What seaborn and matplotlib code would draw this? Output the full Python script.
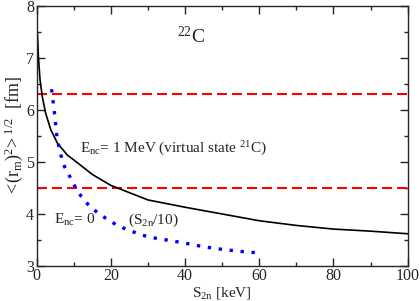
import matplotlib
matplotlib.use('Agg')
import pandas as pd
import seaborn as sns
import matplotlib.pyplot as plt
from matplotlib.ticker import MultipleLocator

# ------------------------------------------------------------
# data
# ------------------------------------------------------------
s2n_black = [0.2, 0.45, 0.9, 1.5, 2.4, 3.8, 5.6, 8.3, 10, 15, 20, 30, 40, 50, 60, 70, 80, 90, 100]
r_black = [7.47, 7.03, 6.58, 6.26, 5.94, 5.62, 5.36, 5.13, 5.04, 4.76, 4.55, 4.27, 4.13, 4.0,
           3.87, 3.78, 3.71, 3.67, 3.62]

s2n_blue = [4.0, 4.5, 5.0, 5.5, 6.5, 7.5, 9, 10.5, 12, 14, 16.5, 19, 21.5, 24, 27, 30,
            35, 40, 45, 50, 55, 60]
r_blue = [6.4, 6.12, 5.8, 5.45, 5.14, 4.91, 4.71, 4.50, 4.34, 4.17, 4.02, 3.90, 3.79, 3.71,
          3.63, 3.56, 3.50, 3.44, 3.37, 3.32, 3.28, 3.25]

r_limits = [6.3, 4.5]

black = pd.DataFrame({'S2n': s2n_black, 'r': r_black})
blue = pd.DataFrame({'S2n': s2n_blue, 'r': r_blue})

# ------------------------------------------------------------
# style
# ------------------------------------------------------------
sns.set_style('ticks')
plt.rcParams['font.family'] = ['Liberation Serif', 'DejaVu Serif']
plt.rcParams['mathtext.fontset'] = 'custom'
plt.rcParams['mathtext.rm'] = 'Liberation Serif'
plt.rcParams['mathtext.it'] = 'Liberation Serif:italic'
plt.rcParams['mathtext.bf'] = 'Liberation Serif:bold'

fig = plt.figure(figsize=(4.2, 3.01), dpi=100)
ax = fig.add_axes([0.0874, 0.1163, 0.8833, 0.8637])

for r in r_limits:
    ax.axhline(r, color='#ff0000', lw=1.5, dashes=(4.8, 2.4))

sns.lineplot(data=black, x='S2n', y='r', ax=ax, color='black', lw=1.2, sort=False)
sns.lineplot(data=blue, x='S2n', y='r', ax=ax, color='#0000ff', lw=2.4, sort=False,
             linestyle=(0, (1, 2.3)), dash_capstyle='butt')

ax.set_xlim(0, 100)
ax.set_ylim(3, 8)
ax.xaxis.set_major_locator(MultipleLocator(20))
ax.xaxis.set_minor_locator(MultipleLocator(10))
ax.yaxis.set_major_locator(MultipleLocator(1))
ax.yaxis.set_minor_locator(MultipleLocator(0.5))
ax.tick_params(which='both', direction='in', top=True, right=True, width=1, labelsize=11.5)
ax.tick_params(which='major', length=6)
ax.tick_params(which='minor', length=3)
ax.tick_params(axis='x', pad=1.5)
ax.tick_params(axis='y', pad=2)
for sp in ax.spines.values():
    sp.set_linewidth(1)

ax.set_xlabel(r'S$_{\mathrm{2n}}$ [keV]', fontsize=11, labelpad=1)
ax.set_ylabel(r'$<\!(\mathrm{r}_{\mathrm{m}})^2\!>^{1/2}$  [fm]', fontsize=13, labelpad=1)

ax.text(37.7, 7.29, r'$^{22}$C', fontsize=14)
ax.text(11.7, 5.18, r'E$_{\mathrm{nc}}$= 1 MeV (virtual state $^{21}$C)', fontsize=11)
ax.text(4.66, 3.81, r'E$_{\mathrm{nc}}$= 0', fontsize=11)
ax.text(24.7, 3.81, r'(S$_{\mathrm{2n}}$/10)', fontsize=11)

fig.savefig('out.png', dpi=100)
